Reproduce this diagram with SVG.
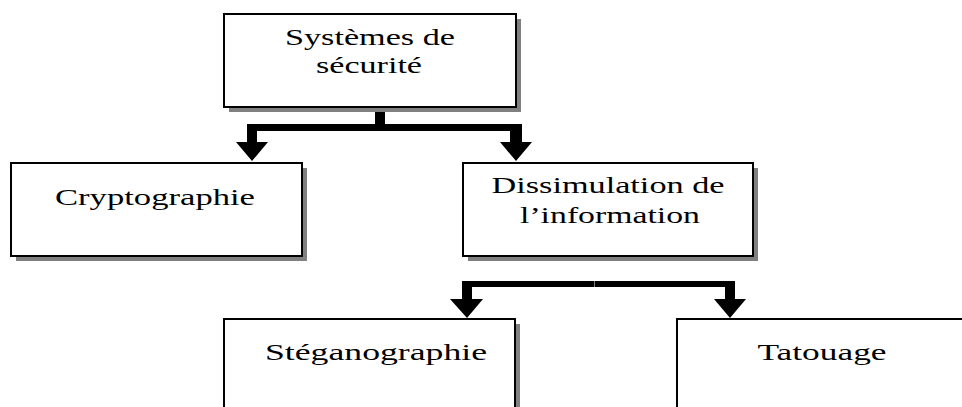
<svg xmlns="http://www.w3.org/2000/svg" width="962" height="407" viewBox="0 0 962 407">
<style>
.shadow{fill:#808080}
.box{fill:#fff;stroke:#000;stroke-width:2}
.lbl{font-family:"Liberation Serif","Times New Roman",serif;font-size:24px;fill:#000;text-anchor:middle}
.arr{fill:#000}
</style>
<rect width="962" height="407" fill="#fff"/>
<g id="connectors">
<rect class="arr" x="375" y="107" width="10" height="18"/>
<polygon class="arr" points="380,124 247,124 247,142 236,142 252,161 268,142 257,142 257,131 380,131"/>
<polygon class="arr" points="380,124 522,124 522,142 532,142 516,161 500,142 510,142 510,131 380,131"/>
<polygon class="arr" points="594,281 462,281 462,299 450,299 467,318 483,299 472,299 472,287 594,287"/>
<polygon class="arr" points="594.5,281 735,281 735,299 746,299 730,318 714,299 725,299 725,287 594.5,287"/>
</g>
<g id="securite">
<rect class="shadow" x="229" y="19" width="292" height="93"/>
<rect class="box" x="224" y="14" width="292" height="93"/>
<text class="lbl" x="370" y="45" textLength="170" lengthAdjust="spacingAndGlyphs">Systèmes de</text>
<text class="lbl" x="369" y="73" textLength="106" lengthAdjust="spacingAndGlyphs">sécurité</text>
</g>
<g id="cryptographie">
<rect class="shadow" x="16" y="168" width="291" height="93"/>
<rect class="box" x="11" y="163" width="291" height="93"/>
<text class="lbl" x="155" y="205" textLength="200" lengthAdjust="spacingAndGlyphs">Cryptographie</text>
</g>
<g id="dissimulation">
<rect class="shadow" x="468" y="168" width="290" height="93"/>
<rect class="box" x="463" y="163" width="290" height="93"/>
<text class="lbl" x="608" y="193" textLength="233" lengthAdjust="spacingAndGlyphs">Dissimulation de</text>
<text class="lbl" x="610" y="223" textLength="180" lengthAdjust="spacingAndGlyphs">l’information</text>
</g>
<g id="steganographie">
<rect class="shadow" x="229" y="324" width="291" height="120"/>
<rect class="box" x="224" y="319" width="291" height="120"/>
<text class="lbl" x="376" y="360" textLength="222" lengthAdjust="spacingAndGlyphs">Stéganographie</text>
</g>
<g id="tatouage">
<rect class="box" x="677" y="319" width="320" height="120"/>
<text class="lbl" x="822" y="360" textLength="129" lengthAdjust="spacingAndGlyphs">Tatouage</text>
</g>
</svg>
